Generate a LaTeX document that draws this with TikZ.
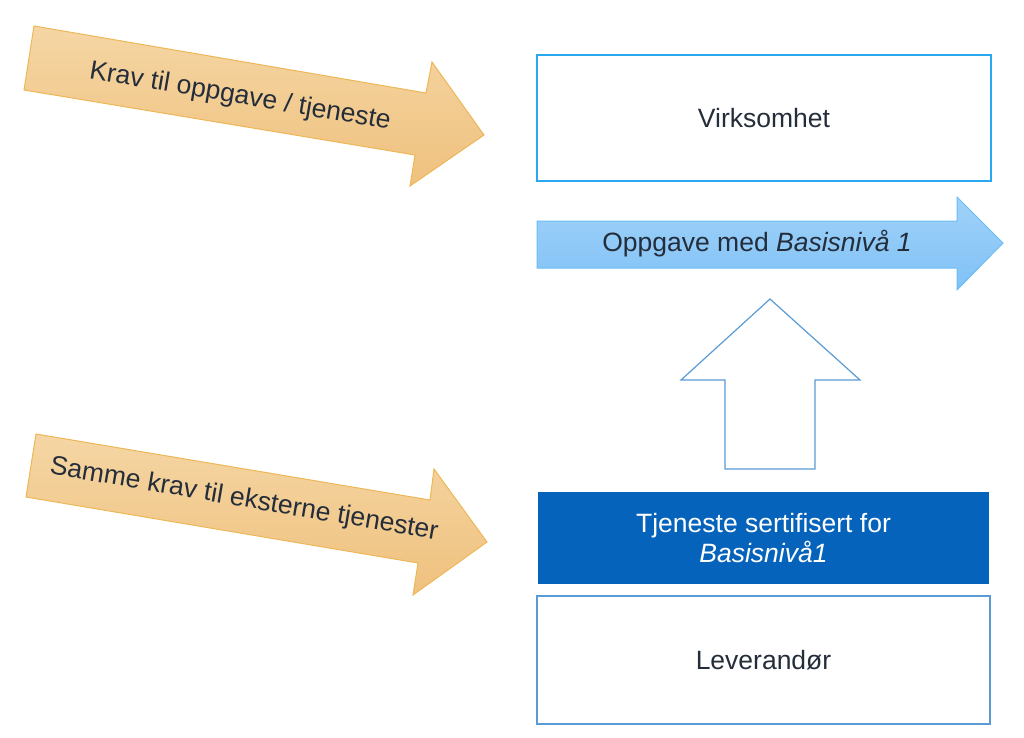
\documentclass[tikz,border=0pt]{standalone}
\usepackage{fontspec}
\setmainfont{Liberation Sans}
\definecolor{txt}{HTML}{242D3A}
\definecolor{ortop}{HTML}{F5D6A4}
\definecolor{orbot}{HTML}{EFC17E}
\definecolor{ordraw}{HTML}{EDB757}
\definecolor{skytop}{HTML}{A0D2F9}
\definecolor{skybot}{HTML}{80C1F6}
\definecolor{skydraw}{HTML}{6CBDF5}
\definecolor{boxblue}{HTML}{29A8F0}
\definecolor{darkblue}{HTML}{0563BB}
\definecolor{lineblue}{HTML}{5B9BD5}
\tikzset{
  lbl/.style={font=\fontsize{26.5}{31}\selectfont, text=txt, inner sep=0pt, align=center},
  orarrow/.style={top color=ortop, bottom color=orbot, draw=ordraw, line width=1pt, line join=miter},
  framebox/.style={rectangle, inner sep=0pt, minimum width=454pt, font=\fontsize{26.5}{31}\selectfont, text=txt, align=center}
}
\begin{document}
\begin{tikzpicture}[x=1pt,y=-1pt]
\useasboundingbox (0,0) rectangle (1024,737);
% top orange arrow
\path[orarrow] (34,26) -- (426,93) -- (432,62) -- (484,135) -- (410,186) -- (415,155) -- (24,90) -- cycle;
\node[lbl, rotate=-9.7] (krav) at (240,97) {Krav til oppgave / tjeneste};
% bottom orange arrow
\path[orarrow] (36,434) -- (430,500) -- (434,469) -- (487,542) -- (413,595) -- (418,563) -- (26,497) -- cycle;
\node[lbl, rotate=-9.7] (samme) at (244,500) {Samme krav til eksterne tjenester};
% Virksomhet box
\node[framebox, draw=boxblue, line width=2.5pt, minimum height=126pt] (virk) at (764,118) {Virksomhet};
% blue arrow
\path[top color=skytop, bottom color=skybot, draw=skydraw, line width=1pt] (537,221) -- (957,221) -- (957,197) -- (1003,243) -- (957,290) -- (957,268) -- (537,268) -- cycle;
\node[lbl] (oppg) at (757,244) {Oppgave med \textit{Basisnivå 1}};
% up arrow
\filldraw[fill=white, draw=lineblue, line width=1.2pt] (770,299) -- (860,380) -- (815,380) -- (815,469) -- (725,469) -- (725,380) -- (681,380) -- cycle;
% certified box
\node[framebox, fill=darkblue, text=white, minimum width=451pt, minimum height=92pt] (tjen) at (763.5,538) {Tjeneste sertifisert for\\[-1pt]\textit{Basisnivå1}};
% Leverandor box
\node[framebox, draw=lineblue, line width=1.2pt, minimum width=453pt, minimum height=128pt] (lev) at (763.5,660) {Leverandør};
\end{tikzpicture}
\end{document}
